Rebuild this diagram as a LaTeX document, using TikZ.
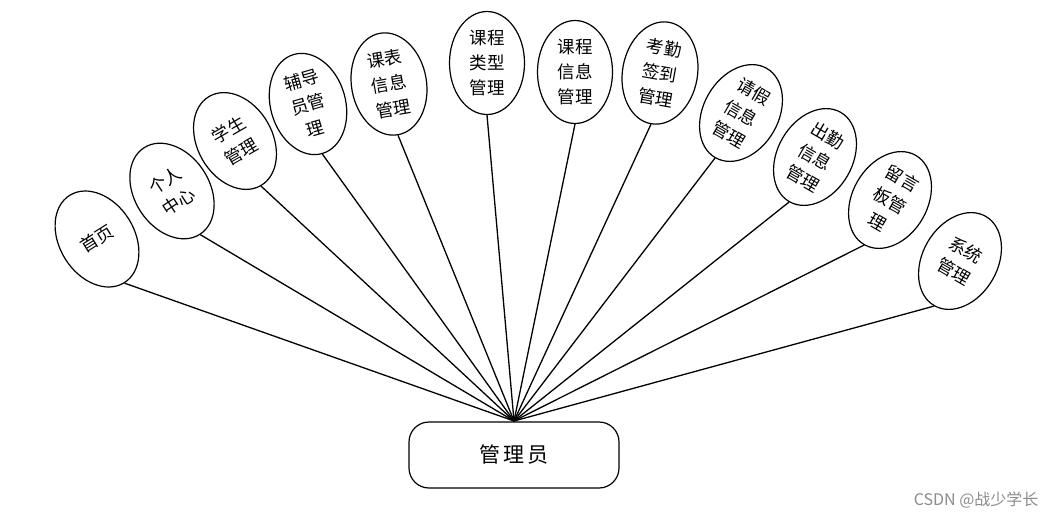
\documentclass[tikz,border=0pt]{standalone}
\usepackage{fontspec}
\setmainfont{Noto Sans CJK SC}
\usetikzlibrary{shapes.geometric}
\begin{document}
\begin{tikzpicture}[x=1pt,y=-1pt,
  func/.style={draw, ellipse, line width=1.2pt, minimum width=75pt, minimum height=103pt,
    inner sep=0pt, align=center, font=\fontsize{17.5}{25}\selectfont, fill=white},
  root/.style={draw, rounded corners=20pt, line width=1.2pt, minimum width=210pt,
    minimum height=66pt, font=\fontsize{21}{24}\selectfont, fill=white},
  link/.style={line width=1.3pt}]
\useasboundingbox (0,0) rectangle (1057,519);
\node[root] (admin) at (514,455) {管\,理\,员};
\coordinate (hub) at (514,421);
\node[func, rotate=32] (n1) at (97,239) {首页};
\node[func, rotate=33] (n2) at (172,191) {个人\\中心};
\node[func, rotate=30] (n3) at (235,141) {学生\\管理};
\node[func, rotate=16] (n4) at (308,104) {辅导\\员管\\理};
\node[func, rotate=10] (n5) at (389,84) {课表\\信息\\管理};
\node[func] (n6) at (487,63) {课程\\类型\\管理};
\node[func] (n7) at (575,72) {课程\\信息\\管理};
\node[func, rotate=-10] (n8) at (660,73) {考勤\\签到\\管理};
\node[func, rotate=-30] (n9) at (741,113) {请假\\信息\\管理};
\node[func, rotate=-30] (n10) at (815,157) {出勤\\信息\\管理};
\node[func, rotate=-30] (n11) at (890,200) {留言\\板管\\理};
\node[func, rotate=-30] (n12) at (960,261) {系统\\管理};
\foreach \n in {n1,n2,n3,n4,n5,n6,n7,n8,n9,n10,n11,n12}
  \draw[link] (hub) -- (\n.south);
\node[font=\fontsize{16}{18}\selectfont, text=black!45, anchor=east] (mark) at (1042,500) {CSDN @战少学长};
\end{tikzpicture}
\end{document}
